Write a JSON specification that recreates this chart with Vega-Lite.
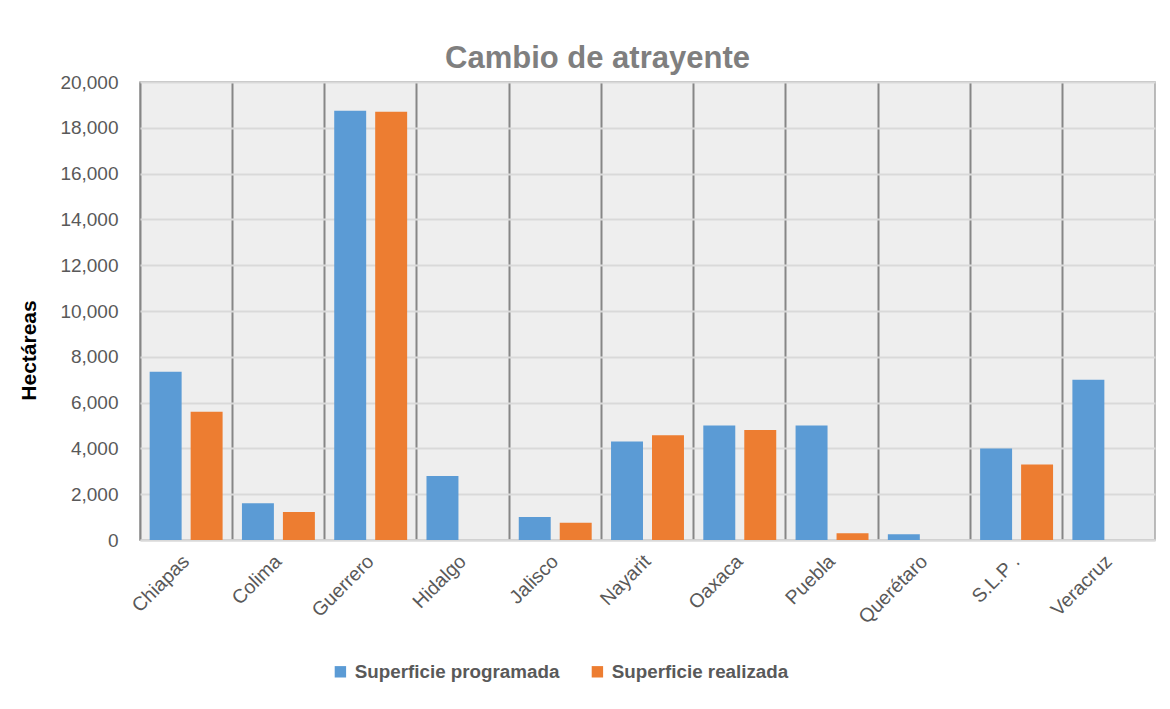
{
  "$schema": "https://vega.github.io/schema/vega-lite/v6.json",
  "autosize": {"type": "none"},
  "width": 1015,
  "height": 458,
  "padding": {"left": 140, "top": 82, "right": 15, "bottom": 169},
  "background": "white",
  "title": {
    "text": "Cambio de atrayente",
    "font": "Liberation Sans",
    "fontSize": 31,
    "fontWeight": "bold",
    "color": "#7f7f7f",
    "anchor": "middle",
    "dx": -50,
    "offset": -2
  },
  "data": {
    "values": [
      {"estado": "Chiapas", "serie": "Superficie programada", "valor": 7350},
      {"estado": "Chiapas", "serie": "Superficie realizada", "valor": 5600},
      {"estado": "Colima", "serie": "Superficie programada", "valor": 1600},
      {"estado": "Colima", "serie": "Superficie realizada", "valor": 1220},
      {"estado": "Guerrero", "serie": "Superficie programada", "valor": 18750},
      {"estado": "Guerrero", "serie": "Superficie realizada", "valor": 18700},
      {"estado": "Hidalgo", "serie": "Superficie programada", "valor": 2800},
      {"estado": "Hidalgo", "serie": "Superficie realizada", "valor": 0},
      {"estado": "Jalisco", "serie": "Superficie programada", "valor": 1000},
      {"estado": "Jalisco", "serie": "Superficie realizada", "valor": 750},
      {"estado": "Nayarit", "serie": "Superficie programada", "valor": 4300},
      {"estado": "Nayarit", "serie": "Superficie realizada", "valor": 4570},
      {"estado": "Oaxaca", "serie": "Superficie programada", "valor": 5000},
      {"estado": "Oaxaca", "serie": "Superficie realizada", "valor": 4800},
      {"estado": "Puebla", "serie": "Superficie programada", "valor": 5000},
      {"estado": "Puebla", "serie": "Superficie realizada", "valor": 300},
      {"estado": "Querétaro", "serie": "Superficie programada", "valor": 250},
      {"estado": "Querétaro", "serie": "Superficie realizada", "valor": 0},
      {"estado": "S.L.P .", "serie": "Superficie programada", "valor": 4000},
      {"estado": "S.L.P .", "serie": "Superficie realizada", "valor": 3300},
      {"estado": "Veracruz", "serie": "Superficie programada", "valor": 7000},
      {"estado": "Veracruz", "serie": "Superficie realizada", "valor": 0}
    ]
  },
  "mark": {"type": "bar", "stroke": null},
  "encoding": {
    "x": {
      "field": "estado",
      "type": "nominal",
      "sort": null,
      "scale": {"paddingInner": 0, "paddingOuter": 0},
      "axis": {
        "title": null,
        "labelAngle": -45,
        "labelAlign": "right",
        "labelBaseline": "middle",
        "labelFont": "Liberation Sans",
        "labelFontSize": 19.5,
        "labelColor": "#595959",
        "labelPadding": 18,
        "labelLimit": 0,
        "ticks": false,
        "grid": true,
        "bandPosition": 0,
        "gridColor": "#868686",
        "gridWidth": 2,
        "domain": true,
        "domainColor": "#d9d9d9",
        "domainWidth": 2
      }
    },
    "xOffset": {
      "field": "serie",
      "type": "nominal",
      "scale": {"paddingInner": 0.22, "paddingOuter": 0.236}
    },
    "y": {
      "field": "valor",
      "type": "quantitative",
      "scale": {"domain": [0, 20000], "nice": false},
      "axis": {
        "title": "Hectáreas",
        "titleFont": "Liberation Sans",
        "titleFontSize": 21,
        "titleFontWeight": "bold",
        "titleColor": "#000000",
        "titleAngle": -90,
        "titleAlign": "center",
        "titleBaseline": "middle",
        "titleX": -111,
        "titleY": 268,
        "values": [0, 2000, 4000, 6000, 8000, 10000, 12000, 14000, 16000, 18000, 20000],
        "format": ",d",
        "labelFont": "Liberation Sans",
        "labelFontSize": 19,
        "labelColor": "#595959",
        "labelPadding": 22,
        "ticks": false,
        "domain": false,
        "grid": true,
        "gridColor": "#d9d9d9",
        "gridWidth": 2
      }
    },
    "color": {
      "field": "serie",
      "type": "nominal",
      "scale": {"range": ["#5b9bd5", "#ed7d31"]},
      "legend": {
        "title": null,
        "orient": "none",
        "direction": "horizontal",
        "legendX": 191,
        "legendY": 580,
        "symbolType": "square",
        "symbolSize": 130,
        "symbolStrokeWidth": 0,
        "labelFont": "Liberation Sans",
        "labelFontSize": 18.8,
        "labelFontWeight": "bold",
        "labelColor": "#595959",
        "labelLimit": 0,
        "columnPadding": 28,
        "labelOffset": 5
      }
    }
  },
  "config": {
    "view": {"fill": "#eeeeee", "stroke": "#a6a6a6", "strokeWidth": 1.5}
  }
}
